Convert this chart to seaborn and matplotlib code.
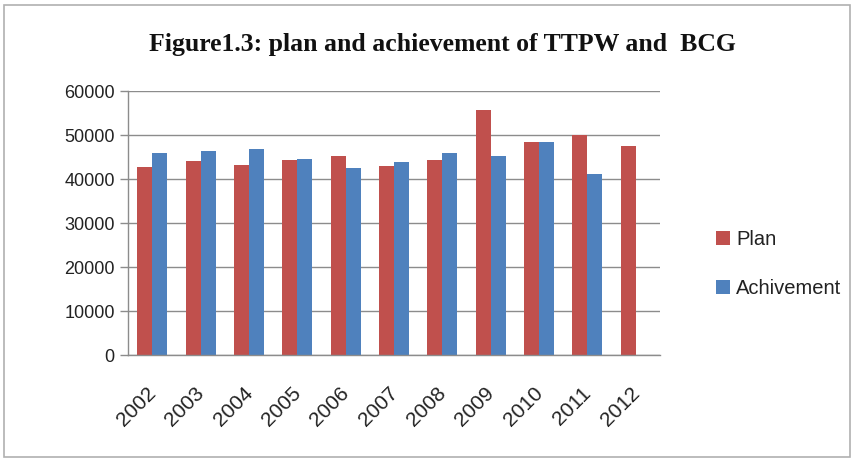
import matplotlib
matplotlib.use("Agg")
import matplotlib.pyplot as plt
import matplotlib.transforms as mtransforms
import seaborn as sns
import pandas as pd
import numpy as np
from matplotlib.patches import Rectangle

years = ["2002", "2003", "2004", "2005", "2006", "2007", "2008", "2009", "2010", "2011", "2012"]
plan = [42800, 44150, 43100, 44250, 45300, 43050, 44250, 55700, 48350, 49900, 47500]
achievement = [45800, 46450, 46750, 44450, 42600, 43950, 45900, 45300, 48350, 41050, np.nan]
series_names = ["Plan", "Achivement"]
colors = ["#C0504D", "#4F81BD"]

df = pd.DataFrame({
    "Year": years * 2,
    "Value": plan + achievement,
    "Series": [series_names[0]] * len(years) + [series_names[1]] * len(years),
})

sns.set_theme(style="white")
plt.rcParams["font.family"] = ["Liberation Sans", "DejaVu Sans"]

fig = plt.figure(figsize=(8.56, 4.61), dpi=100)
ax = fig.add_axes([128 / 856, 1 - 355 / 461, (660 - 128) / 856, (355 - 91) / 461])

sns.barplot(data=df, x="Year", y="Value", hue="Series", palette=colors,
            width=0.62, ax=ax, saturation=1, gap=0, dodge=True, linewidth=0, edgecolor="none")

ax.set_ylim(0, 60000)
ax.set_yticks(range(0, 60001, 10000))
ax.set_xlim(-0.5, len(years) - 0.5)
ax.yaxis.grid(True, color="#8c8c8c", linewidth=1)
ax.set_axisbelow(True)
ax.set_xlabel("")
ax.set_ylabel("")
for s in ["top", "right"]:
    ax.spines[s].set_visible(False)
for s in ["left", "bottom"]:
    ax.spines[s].set_color("#8c8c8c")
    ax.spines[s].set_linewidth(1)

ax.set_xticks(np.arange(len(years)))
ax.set_xticklabels(years, rotation=45, ha="right", rotation_mode="anchor", fontsize=15, color="#222222")
ax.set_xticks(np.arange(-0.5, len(years), 1), minor=True)
ax.tick_params(axis="x", which="major", length=0, pad=9)
ax.tick_params(axis="x", which="minor", length=6, color="#8c8c8c", width=1, direction="out")
ax.tick_params(axis="y", which="major", length=6, color="#8c8c8c", width=1, direction="out",
               labelsize=13, labelcolor="#222222", left=True)
offset = mtransforms.ScaledTranslation(-6 / 100, -16 / 100, fig.dpi_scale_trans)
for lab in ax.get_xticklabels():
    lab.set_transform(lab.get_transform() + offset)

leg = ax.legend(handles=ax.get_legend_handles_labels()[0], labels=series_names,
                loc="center left", bbox_to_anchor=(698 / 856, 1 - 264 / 461),
                bbox_transform=fig.transFigure, frameon=False, fontsize=14.5,
                handlelength=0.7, handleheight=0.7, handletextpad=0.3, labelspacing=1.5)
for t in leg.get_texts():
    t.set_color("#222222")

fig.text(442 / 856, 1 - 45 / 461, "Figure1.3: plan and achievement of TTPW and  BCG",
         ha="center", va="center", fontsize=18.5, fontweight="bold",
         family=["Liberation Serif", "DejaVu Serif"], color="#111111")

fig.patches.append(Rectangle((4 / 856, 4 / 461), 846 / 856, 452 / 461, transform=fig.transFigure,
                             fill=False, edgecolor="#b0b0b0", linewidth=1.2))

fig.savefig("out.png", dpi=100)
